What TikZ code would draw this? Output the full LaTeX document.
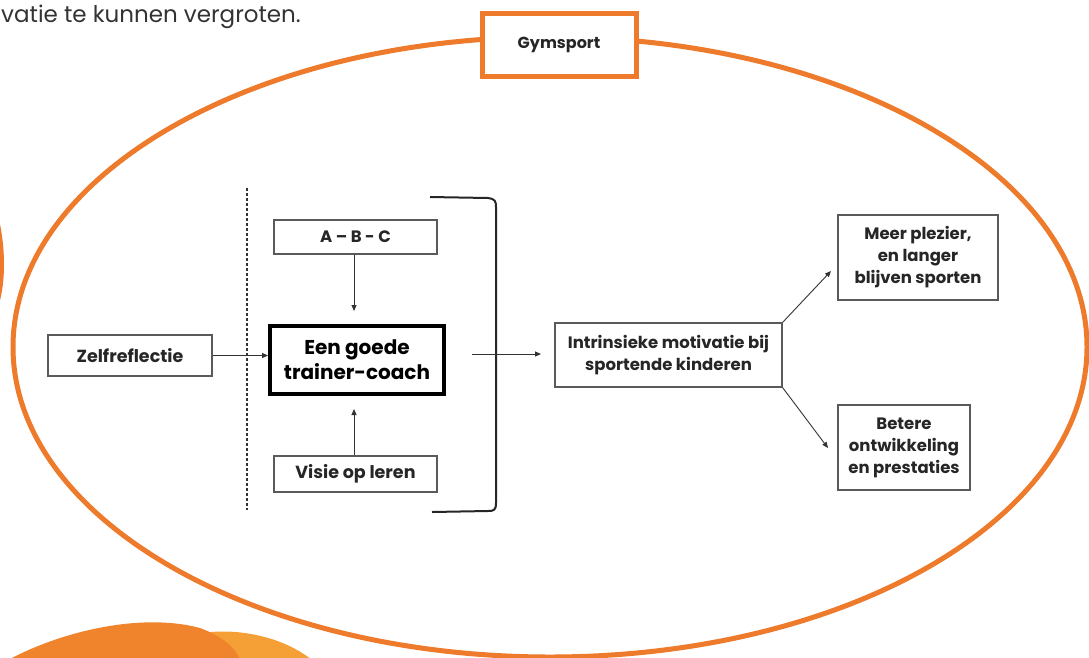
\documentclass[tikz,border=0pt]{standalone}
\usepackage{fontspec}
\setmainfont{Poppins}
\usetikzlibrary{arrows.meta}
\definecolor{gymorange}{HTML}{EE7A2B}
\definecolor{blobA}{HTML}{F0842C}
\definecolor{blobB}{HTML}{F5A037}
\definecolor{boxgray}{HTML}{5A5A5A}
\definecolor{txtgray}{HTML}{333333}
\tikzset{
  plainbox/.style={draw=boxgray, line width=1.4pt, fill=white, align=center, inner sep=0pt,
     font=\bfseries\fontsize{16.5}{22}\selectfont, text=black!85},
  thickbox/.style={draw=black, line width=4pt, fill=white, align=center, inner sep=0pt,
     font=\bfseries\fontsize{20}{25}\selectfont},
  conn/.style={draw=black!80, line width=0.9pt, -{Triangle[length=6pt,width=5pt]}},
}
\begin{document}
\begin{tikzpicture}[x=1pt,y=-1pt]
\useasboundingbox (0,0) rectangle (1089,657);
\clip (0,0) rectangle (1089,657);
\fill[white] (0,0) rectangle (1089,657);
% top text
\node[anchor=base west, inner sep=0pt, text=txtgray, font=\fontsize{23}{28}\selectfont] (toptext) at (1,22) {vatie te kunnen vergroten.};
% bottom-left blobs
\fill[blobB] (150,660) .. controls (175,622) and (265,622) .. (312,660) -- cycle;
\fill[blobA] (8,660) .. controls (60,632) and (140,612) .. (200,628) .. controls (222,636) and (236,648) .. (240,660) -- cycle;
% left partial arc
\draw[gymorange, line width=5pt] (-3,222) .. controls (3,250) and (3,280) .. (-3,302);
% big ellipse
\draw[gymorange, line width=5pt] (550,347) ellipse [x radius=537, y radius=310];
\node[draw=gymorange, line width=5pt, fill=white, minimum width=154pt, minimum height=63pt, inner sep=0pt,
      font=\bfseries\fontsize{16}{19}\selectfont, text=black!85] (gym) at (559,44.5) {Gymsport};
% dashed line
\coordinate (dtop) at (247,188);
\coordinate (dbot) at (247,510);
\draw[black!80, line width=1.4pt, dash pattern=on 3pt off 2pt] (dtop) -- (dbot);
% bracket
\coordinate (brtop) at (430,197);
\coordinate (brbot) at (432,512);
\draw[black!85, line width=2pt] (brtop) -- (488,198) .. controls (495,199) and (496,201) .. (496,207)
   -- (496,503) .. controls (496,510) and (494,511) .. (488,511) -- (brbot);
% boxes
\node[plainbox, minimum width=164pt, minimum height=41pt, font=\bfseries\fontsize{17.5}{22}\selectfont] (zelf) at (130,355.5) {Zelfreflectie};
\node[plainbox, minimum width=163pt, minimum height=34pt] (abc) at (355.5,237) {A -- B - C};
\node[thickbox, minimum width=174pt, minimum height=68pt] (een) at (357,360) {Een goede\\trainer-coach};
\node[plainbox, minimum width=163pt, minimum height=36pt, font=\bfseries\fontsize{17.5}{22}\selectfont] (visie) at (355.5,474) {Visie op leren};
\node[plainbox, minimum width=227pt, minimum height=64pt] (intr) at (668.5,355) {Intrinsieke motivatie bij\\sportende kinderen};
\node[plainbox, minimum width=160pt, minimum height=85pt] (meer) at (918,257.5) {Meer plezier,\\en langer\\blijven sporten};
\node[plainbox, minimum width=132pt, minimum height=85pt] (betere) at (904,447.5) {Betere\\ontwikkeling\\en prestaties};
% connectors
\coordinate (abcend) at (354,311);
\coordinate (visend) at (354,409);
\coordinate (midstart) at (472,354);
\coordinate (midend) at (541,354);
\coordinate (upend) at (831,271);
\coordinate (downend) at (828,448);
\draw[conn] (zelf.east) -- (zelf.east -| een.west);
\draw[conn] (abc.south -| abcend) -- (abcend);
\draw[conn] (visie.north -| visend) -- (visend);
\draw[conn] (midstart) -- (midend);
\draw[conn] (intr.north east) -- (upend);
\draw[conn] (intr.south east) -- (downend);
\end{tikzpicture}
\end{document}
